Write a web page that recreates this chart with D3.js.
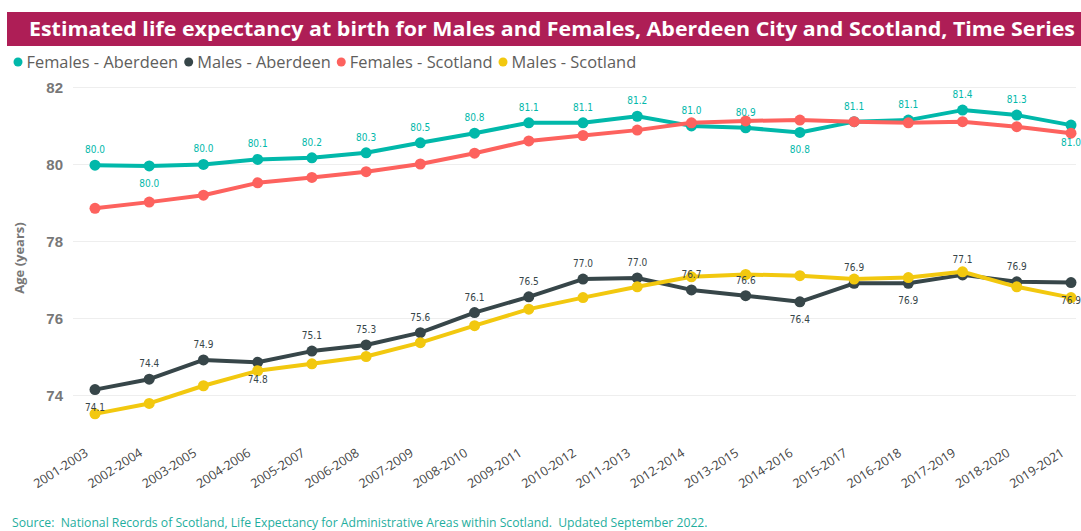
<!DOCTYPE html>
<html>
<head>
<meta charset="utf-8">
<script src="https://cdn.jsdelivr.net/npm/d3@7"></script>
<style>
  body { margin: 0; background: #fff; }
  svg { display: block; font-family: "Open Sans", sans-serif; }
  .title { fill: #fff; font-weight: 700; font-size: 20px; }
  .legend text { fill: #605e5c; font-size: 16.4px; }
  .y-axis text { fill: #777; font-size: 15px; font-weight: 600; }
  .y-axis line { stroke: #eeeeee; }
  .x-label { fill: #444; font-size: 12.6px; }
  .axis-title { fill: #777; font-size: 13px; font-weight: 700; }
  .point-label { font-family: "DejaVu Sans Condensed", sans-serif; font-size: 10px; }
  .source { fill: #1fae9e; font-size: 12.2px; white-space: pre; }
</style>
</head>
<body>
<div class="graphic"></div>
<script>
const periods = ["2001-2003","2002-2004","2003-2005","2004-2006","2005-2007","2006-2008","2007-2009",
  "2008-2010","2009-2011","2010-2012","2011-2013","2012-2014","2013-2015","2014-2016","2015-2017",
  "2016-2018","2017-2019","2018-2020","2019-2021"]

const femalesAberdeen = [79.97,79.95,79.99,80.12,80.16,80.29,80.55,80.80,81.07,81.07,81.24,80.99,80.94,80.82,81.10,81.14,81.40,81.27,81.01]
const malesAberdeen = [74.14,74.41,74.91,74.85,75.14,75.30,75.62,76.14,76.55,77.01,77.04,76.73,76.58,76.42,76.90,76.90,77.12,76.94,76.92]
const femalesScotland = [78.85,79.01,79.19,79.51,79.65,79.80,80.00,80.28,80.60,80.74,80.88,81.07,81.12,81.14,81.10,81.07,81.10,80.97,80.80]
const malesScotland = [73.51,73.78,74.24,74.63,74.81,75.00,75.36,75.80,76.23,76.53,76.81,77.07,77.13,77.10,77.01,77.05,77.20,76.81,76.53]

const seriesNames = ["Females - Aberdeen", "Males - Aberdeen", "Females - Scotland", "Males - Scotland"]
const yTicks = [74, 76, 78, 80, 82]

// which points get their label under the marker (to dodge the other lines)
const femalesAberdeenBelow = [1, 13, 18]
const malesAberdeenBelow = [0, 3, 13, 15, 18]

const colors = ["#01b8aa", "#374649", "#fd625e", "#f2c80f"]

const width = 1081
const height = 531

const series = [
  {name: seriesNames[0], values: femalesAberdeen, color: colors[0], labels: true, below: femalesAberdeenBelow},
  {name: seriesNames[1], values: malesAberdeen, color: colors[1], labels: true, below: malesAberdeenBelow},
  {name: seriesNames[2], values: femalesScotland, color: colors[2], labels: false},
  {name: seriesNames[3], values: malesScotland, color: colors[3], labels: false}
]

const svg = d3.select(".graphic").append("svg")
  .attr("width", width)
  .attr("height", height)

// title banner
svg.append("rect")
  .attr("x", 7).attr("y", 12)
  .attr("width", width - 7).attr("height", 34)
  .attr("fill", "#ae1e56")

svg.append("text")
  .attr("class", "title")
  .attr("x", 29).attr("y", 36)
  .attr("textLength", 1046)
  .attr("lengthAdjust", "spacingAndGlyphs")
  .text("Estimated life expectancy at birth for Males and Females, Aberdeen City and Scotland, Time Series")

// legend
const legend = svg.append("g").attr("class", "legend")
let lx = 18
series.forEach(function(s){
  legend.append("circle")
    .attr("cx", lx).attr("cy", 62).attr("r", 4.5)
    .attr("fill", s.color)
  let t = legend.append("text")
    .attr("x", lx + 8.5).attr("y", 67.8)
    .text(s.name)
  lx += 8.5 + t.node().getComputedTextLength() + 10.5
})

const x = d3.scalePoint()
  .domain(periods)
  .range([95, 1071])

const y = d3.scaleLinear()
  .domain([74, 82])
  .range([395, 87])

// y axis + gridlines
const yAxis = svg.append("g")
  .attr("class", "y-axis")
  .attr("transform", "translate(73,0)")
  .call(d3.axisLeft(y).tickValues(yTicks).tickSize(-1003).tickPadding(10))
yAxis.select(".domain").remove()
yAxis.selectAll("text").attr("dy", "0.35em")

svg.append("text")
  .attr("class", "axis-title")
  .attr("transform", "translate(24,258) rotate(-90)")
  .attr("text-anchor", "middle")
  .text("Age (years)")

// x labels
svg.selectAll("text.x-label")
  .data(periods)
  .enter()
  .append("text")
    .attr("class", "x-label")
    .attr("text-anchor", "end")
    .attr("transform", d => "translate(" + (x(d) - 6) + ",455) rotate(-33)")
    .text(d => d)

const line = d3.line()
  .x((d, i) => x(periods[i]))
  .y(d => y(d))

series.forEach(function(s){
  let g = svg.append("g")
  g.append("path")
    .attr("d", line(s.values))
    .attr("fill", "none")
    .attr("stroke", s.color)
    .attr("stroke-width", 4)
    .attr("stroke-linejoin", "round")
  g.selectAll("circle")
    .data(s.values)
    .enter()
    .append("circle")
      .attr("cx", (d, i) => x(periods[i]))
      .attr("cy", d => y(d))
      .attr("r", 5.5)
      .attr("fill", s.color)
})

// data labels on top
series.filter(s => s.labels).forEach(function(s){
  svg.append("g").selectAll("text")
    .data(s.values)
    .enter()
    .append("text")
      .attr("class", "point-label")
      .attr("text-anchor", "middle")
      .attr("fill", s.color)
      .attr("x", (d, i) => x(periods[i]))
      .attr("y", (d, i) => s.below.indexOf(i) >= 0 ? y(d) + 21 : y(d) - 12)
      .text(d => d3.format(".1f")(d))
})

svg.append("text")
  .attr("class", "source")
  .attr("x", 12).attr("y", 527)
  .text("Source:  National Records of Scotland, Life Expectancy for Administrative Areas within Scotland.  Updated September 2022.")
</script>
</body>
</html>
